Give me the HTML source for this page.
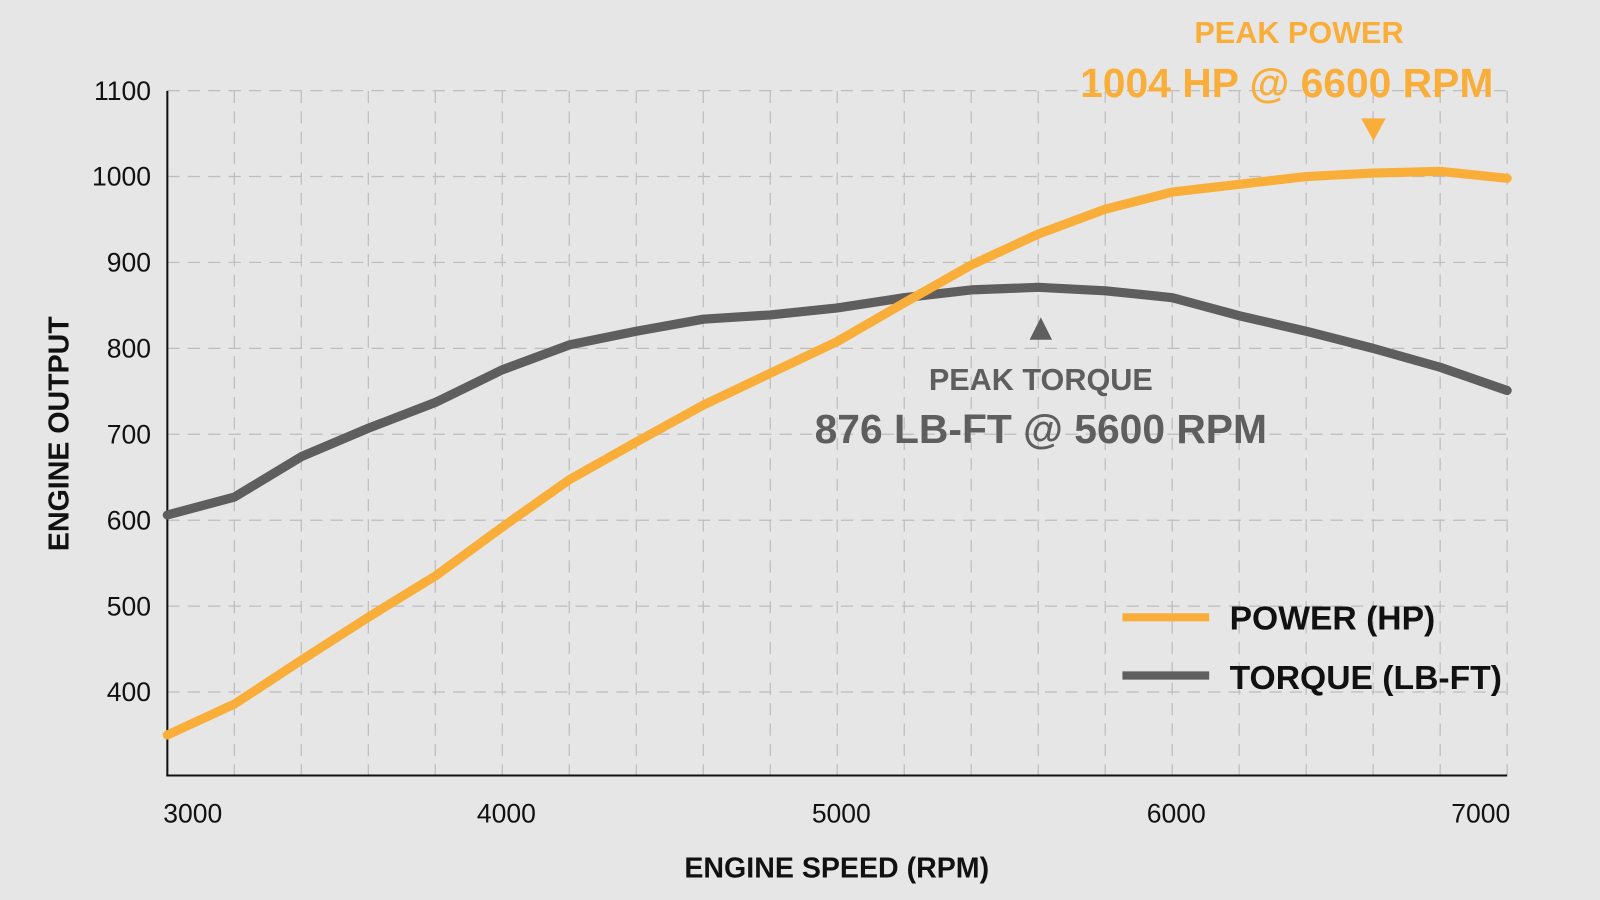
<!DOCTYPE html>
<html><head><meta charset="utf-8"><style>
html,body{margin:0;padding:0;background:#e6e6e6;}
svg{display:block;font-family:"Liberation Sans",sans-serif;}
</style></head><body>
<svg width="1600" height="900" viewBox="0 0 1568 882" preserveAspectRatio="none" xmlns="http://www.w3.org/2000/svg">
<rect width="1568" height="882" fill="#e6e6e6"/>
<g id="grid"></g>
<g id="axes"></g>
<g id="lines"></g>
<g>
<text x="1273" y="42" fill="#f9ae3a" font-size="30" font-weight="bold" text-anchor="middle">PEAK POWER</text>
<text x="1261" y="95" fill="#f9ae3a" font-size="40" font-weight="bold" text-anchor="middle">1004 HP @ 6600 RPM</text>
<polygon points="1334,116 1358,116 1346,138" fill="#f9ae3a"/>
</g>
<g>
<polygon points="1009,333 1031,333 1020,311" fill="#5e5e5e"/>
<text x="1020" y="382" fill="#5e5e5e" font-size="30" font-weight="bold" text-anchor="middle">PEAK TORQUE</text>
<text x="1020" y="434" fill="#5e5e5e" font-size="40" font-weight="bold" text-anchor="middle">876 LB-FT @ 5600 RPM</text>
</g>
<g>
<line x1="1100" y1="605" x2="1185" y2="605" stroke="#f9ae3a" stroke-width="8"/>
<text x="1205" y="617" font-size="33" font-weight="bold" fill="#111">POWER (HP)</text>
<line x1="1100" y1="662" x2="1185" y2="662" stroke="#5e5e5e" stroke-width="8"/>
<text x="1205" y="675" font-size="33" font-weight="bold" fill="#111">TORQUE (LB-FT)</text>
</g>
<text x="820" y="860" font-size="28" font-weight="bold" text-anchor="middle" fill="#111">ENGINE SPEED (RPM)</text>
<text transform="translate(67,425) rotate(-90)" font-size="28" font-weight="bold" text-anchor="middle" fill="#111">ENGINE OUTPUT</text>
</svg>
<script>
const rpm = [3000,3200,3400,3600,3800,4000,4200,4400,4600,4800,5000,5200,5400,5600,5800,6000,6200,6400,6600,6800,7000];
const power = [350,386,437,487,535,592,647,691,734,771,808,853,897,933,962,982,991,1000,1004,1006,998];
const torque = [606,627,674,707,737,775,804,820,834,839,847,859,868,871,867,859,838,820,800,778,751];
const yTicks = [400,500,600,700,800,900,1000,1100];
const xTicks = [3000,4000,5000,6000,7000];
const NS='http://www.w3.org/2000/svg';
function x(v){return 164+(v-3000)*(1477-164)/4000;}
function y(v){return 173+(1000-v)*0.842;}
function mk(t,a,p){const e=document.createElementNS(NS,t);for(const k in a)e.setAttribute(k,a[k]);p.appendChild(e);return e;}
const grid=document.getElementById('grid'),axes=document.getElementById('axes'),lines=document.getElementById('lines');
for(let r=3200;r<=7000;r+=200){const l=mk('line',{x1:x(r),x2:x(r),y1:89,y2:760,stroke:'#bdbdbd','stroke-width':1.2,'stroke-dasharray':'12 8'},grid);

}
yTicks.forEach(v=>{const l=mk('line',{x1:164,x2:1477,y1:y(v),y2:y(v),stroke:'#bdbdbd','stroke-width':1.2,'stroke-dasharray':'12 8'},grid);


const t=mk('text',{x:148,y:y(v)+9,'text-anchor':'end','font-size':26,fill:'#111'},axes);t.textContent=v;

});
xTicks.forEach((v,i)=>{const anc=i==0?'start':(i==xTicks.length-1?'end':'middle');
const t=mk('text',{x:i==0?160:(i==xTicks.length-1?1480:x(v)+4),y:806,'text-anchor':anc,'font-size':26,fill:'#111'},axes);t.textContent=v;

});
const ya=mk('line',{x1:164,x2:164,y1:89,y2:761,stroke:'#111','stroke-width':2},axes);


const xa=mk('line',{x1:163,x2:1477,y1:760,y2:760,stroke:'#111','stroke-width':2},axes);


function path(vals,col,name){const d=vals.map((v,i)=>(i?'L':'M')+x(rpm[i]).toFixed(1)+','+y(v).toFixed(1)).join(' ');
const p=mk('path',{d:d,fill:'none',stroke:col,'stroke-width':9,'stroke-linejoin':'round','stroke-linecap':'round'},lines);

}
path(torque,'#5e5e5e','torque-line');
path(power,'#f9ae3a','power-line');
</script>
</body></html>
